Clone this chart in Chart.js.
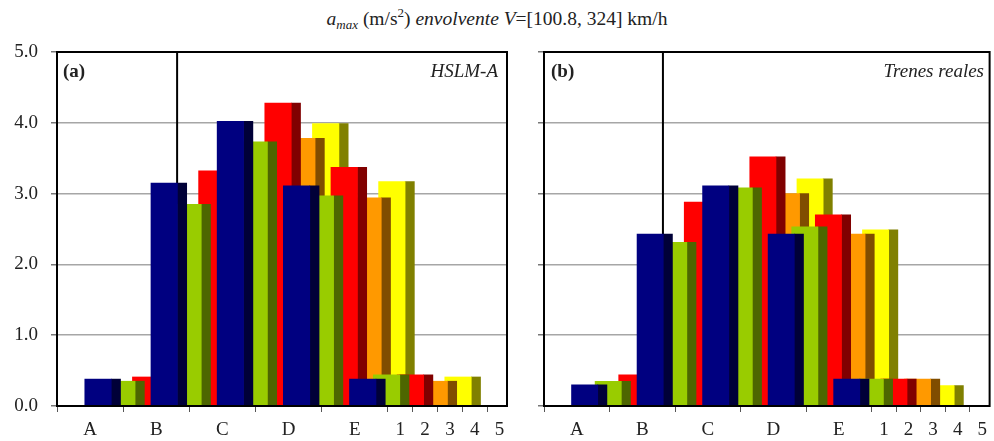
<!DOCTYPE html>
<html>
<head>
<meta charset="utf-8">
<script src="https://cdn.jsdelivr.net/npm/chart.js@4.4.1/dist/chart.umd.min.js"></script>
<style>
  body { margin: 0; background: #fff; }
  #wrap { position: relative; width: 994px; height: 441px; overflow: hidden; font-family: "Liberation Serif", serif; color: #222; }
  canvas { position: absolute; top: 0; }
  #title { position: absolute; top: 5px; left: 0; width: 994px; text-align: center; font-size: 19.5px; }
  #title sub { font-size: 13px; }
  #title sup { font-size: 13px; }
  .tag { position: absolute; top: 60px; font-size: 19px; }
</style>
</head>
<body>
<div id="wrap">
  <div id="title"><i>a</i><sub><i>max</i></sub> (m/s<sup>2</sup>) <i>envolvente V</i>=[100.8, 324] km/h</div>
  <canvas id="chartA" width="512" height="441" style="left:0"></canvas>
  <canvas id="chartB" width="482" height="441" style="left:512px"></canvas>
  <div class="tag" style="left:63px"><b>(a)</b></div>
  <div class="tag" style="right:496px"><i>HSLM-A</i></div>
  <div class="tag" style="left:551px"><b>(b)</b></div>
  <div class="tag" style="right:10px"><i>Trenes reales</i></div>
</div>
<script>
// categories along the axis, then the depth rows 1..5
const categories = ["A", "B", "C", "D", "E"];
const depthLabels = ["1", "2", "3", "4", "5"];
const yTicks = [0, 1, 2, 3, 4, 5];

// (a) HSLM-A, one array per depth row (null = hidden behind other bars)
const hslmRow1 = [0.38, 3.15, 4.02, 3.11, 0.38];
const hslmRow2 = [0.35, 2.85, 3.73, 2.97, 0.44];
const hslmRow3 = [0.41, 3.32, 4.28, 3.37, 0.44];
const hslmRow4 = [null, null, 3.78, 2.94, 0.35];
const hslmRow5 = [null, null, 3.99, 3.17, 0.41];

// (b) Trenes reales
const realRow1 = [0.30, 2.43, 3.11, 2.43, 0.38];
const realRow2 = [0.35, 2.31, 3.08, 2.53, 0.38];
const realRow3 = [0.44, 2.88, 3.52, 2.70, 0.38];
const realRow4 = [null, null, 3.00, 2.43, 0.38];
const realRow5 = [null, null, 3.21, 2.49, 0.29];

const rowColors = [
  { front: "#000080", side: "#000038" },
  { front: "#99cc00", side: "#4d6600" },
  { front: "#ff0000", side: "#800000" },
  { front: "#ff9900", side: "#804d00" },
  { front: "#ffff00", side: "#808000" },
];

// geometry in axis units (one category = 1)
const BAR_START = 0.42;
const ROW_SHIFT = 0.36;
const FRONT_W = 0.40;
const SIDE_W = 0.14;
const DEPTH_STEP = 0.375;
const X_MAX = 6.8;
const DIVIDER_X = 1.815;

const FONT = { family: "'Liberation Serif', serif", size: 19 };

// tick marks at the boundaries, labels in the middle of each slot
const depthStart = categories.length;
const xTicks = [];
for (let i = 0; i <= categories.length; i++) xTicks.push({ value: i, text: "", mark: true });
depthLabels.forEach((lab, k) => {
  if (k > 0) xTicks.push({ value: depthStart + k * DEPTH_STEP, text: "", mark: true });
});
xTicks.push({ value: depthStart + (depthLabels.length - 1) * DEPTH_STEP, text: "", mark: true });
categories.forEach((c, i) => xTicks.push({ value: i + 0.5, text: c, mark: false }));
depthLabels.forEach((d, k) => xTicks.push({ value: depthStart + (k + 0.5) * DEPTH_STEP, text: d, mark: false }));
xTicks.sort((a, b) => a.value - b.value);

function unitPx(chart, w) {
  const s = chart.scales.x;
  return s.getPixelForValue(w) - s.getPixelForValue(0);
}

function buildDatasets(rows) {
  const sets = [];
  rows.forEach((values, row) => {
    const front = [];
    const side = [];
    values.forEach((v, i) => {
      if (v === null) return;
      const left = i + BAR_START + row * ROW_SHIFT;
      front.push({ x: left + FRONT_W / 2, y: v });
      side.push({ x: left + FRONT_W + SIDE_W / 2, y: v });
    });
    sets.push({
      data: front, backgroundColor: rowColors[row].front, borderWidth: 0,
      grouped: false, order: row, barThickness: (ctx) => unitPx(ctx.chart, FRONT_W),
    });
    sets.push({
      data: side, backgroundColor: rowColors[row].side, borderWidth: 0,
      grouped: false, order: row, barThickness: (ctx) => unitPx(ctx.chart, SIDE_W),
    });
  });
  sets.push({
    type: "line", data: [{ x: DIVIDER_X, y: 0 }, { x: DIVIDER_X, y: 5 }],
    borderColor: "#000", borderWidth: 2, pointRadius: 0, order: 99,
  });
  return sets;
}

const framePlugin = {
  id: "frame",
  afterDatasetsDraw(chart) {
    const a = chart.chartArea;
    const ctx = chart.ctx;
    ctx.save();
    ctx.strokeStyle = "#000";
    ctx.lineWidth = 2;
    ctx.strokeRect(a.left, a.top, a.right - a.left, a.bottom - a.top);
    ctx.restore();
  },
};

function makeChart(id, rows, axisWidth, showYLabels, padRight) {
  return new Chart(document.getElementById(id), {
    type: "bar",
    data: { datasets: buildDatasets(rows) },
    options: {
      responsive: false,
      animation: false,
      layout: { padding: { top: 52, right: padRight, left: 0, bottom: 0 } },
      plugins: { legend: { display: false }, tooltip: { enabled: false } },
      scales: {
        x: {
          type: "linear", min: 0, max: X_MAX, offset: false,
          afterBuildTicks: (scale) => { scale.ticks = xTicks.map((t) => ({ value: t.value })); },
          afterFit: (scale) => { scale.height = 35; },
          ticks: {
            autoSkip: false, maxRotation: 0, padding: 7, color: "#222", font: FONT,
            callback: (v, i) => xTicks[i].text,
          },
          grid: {
            offset: false, drawOnChartArea: false, tickLength: 6,
            tickColor: (ctx) => (xTicks[ctx.index] && xTicks[ctx.index].mark ? "#555" : "rgba(0,0,0,0)"),
          },
          border: { color: "#000", width: 2 },
        },
        y: {
          min: 0, max: 5,
          afterBuildTicks: (scale) => { scale.ticks = yTicks.map((v) => ({ value: v })); },
          afterFit: (scale) => { scale.width = axisWidth; },
          ticks: {
            display: showYLabels, padding: 13, color: "#222", font: FONT,
            callback: (v) => v.toFixed(1),
          },
          grid: { color: "#a6a6a6", lineWidth: 1.5, tickLength: 6, tickColor: "#777" },
          border: { color: "#000", width: 2 },
        },
      },
    },
    plugins: [framePlugin],
  });
}

makeChart("chartA", [hslmRow1, hslmRow2, hslmRow3, hslmRow4, hslmRow5], 57, true, 5);
makeChart("chartB", [realRow1, realRow2, realRow3, realRow4, realRow5], 32, false, 1);
</script>
</body>
</html>
